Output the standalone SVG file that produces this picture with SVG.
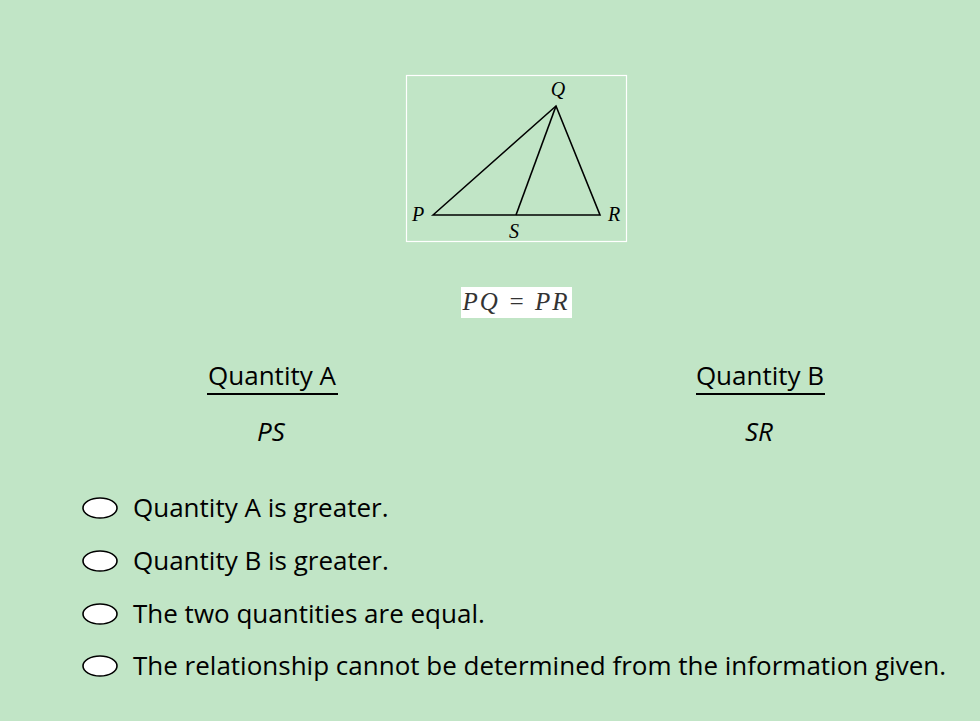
<svg xmlns="http://www.w3.org/2000/svg" width="980" height="721" viewBox="0 0 980 721">
<style>
.lbl{font-family:"Liberation Serif",serif;font-style:italic;font-size:20px;fill:#000}
.ui{font-family:"Open Sans","Noto Sans",sans-serif;font-size:26px;fill:#000}
.opt{fill:#fff;stroke:#000;stroke-width:1.6}
</style>
<rect width="980" height="721" fill="#c1e5c6"/>
<g id="figure">
<rect x="406.5" y="75.5" width="220" height="166" fill="none" stroke="#fff" stroke-width="1.2"/>
<g fill="none" stroke="#000" stroke-width="1.6" stroke-linejoin="miter">
<polygon points="433,215 556,106 600,215"/>
<line x1="556" y1="106" x2="516" y2="215"/>
</g>
<text class="lbl" x="558" y="96" text-anchor="middle">Q</text>
<text class="lbl" x="418" y="221" text-anchor="middle">P</text>
<text class="lbl" x="614" y="221" text-anchor="middle">R</text>
<text class="lbl" x="514" y="238" text-anchor="middle">S</text>
</g>
<g id="given">
<rect x="461" y="287" width="111" height="31" fill="#fff"/>
<text x="516" y="310" text-anchor="middle" font-family="Liberation Serif,serif" font-style="italic" font-size="25" letter-spacing="2" fill="#333">PQ = PR</text>
</g>
<g id="quantityA">
<text class="ui" x="272" y="385" text-anchor="middle">Quantity A</text>
<line x1="207" y1="394" x2="338" y2="394" stroke="#000" stroke-width="2"/>
<text class="ui" x="271" y="441" text-anchor="middle" font-style="italic">PS</text>
</g>
<g id="quantityB">
<text class="ui" x="760" y="385" text-anchor="middle">Quantity B</text>
<line x1="696" y1="394" x2="825" y2="394" stroke="#000" stroke-width="2"/>
<text class="ui" x="759" y="441" text-anchor="middle" font-style="italic">SR</text>
</g>
<g id="options">
<ellipse class="opt" cx="100" cy="508" rx="17" ry="10"/>
<text class="ui" x="133" y="517">Quantity A is greater.</text>
<ellipse class="opt" cx="100" cy="561" rx="17" ry="10"/>
<text class="ui" x="133" y="570">Quantity B is greater.</text>
<ellipse class="opt" cx="100" cy="614" rx="17" ry="10"/>
<text class="ui" x="133" y="623">The two quantities are equal.</text>
<ellipse class="opt" cx="100" cy="666" rx="17" ry="10"/>
<text class="ui" x="133" y="675">The relationship cannot be determined from the information given.</text>
</g>
</svg>
